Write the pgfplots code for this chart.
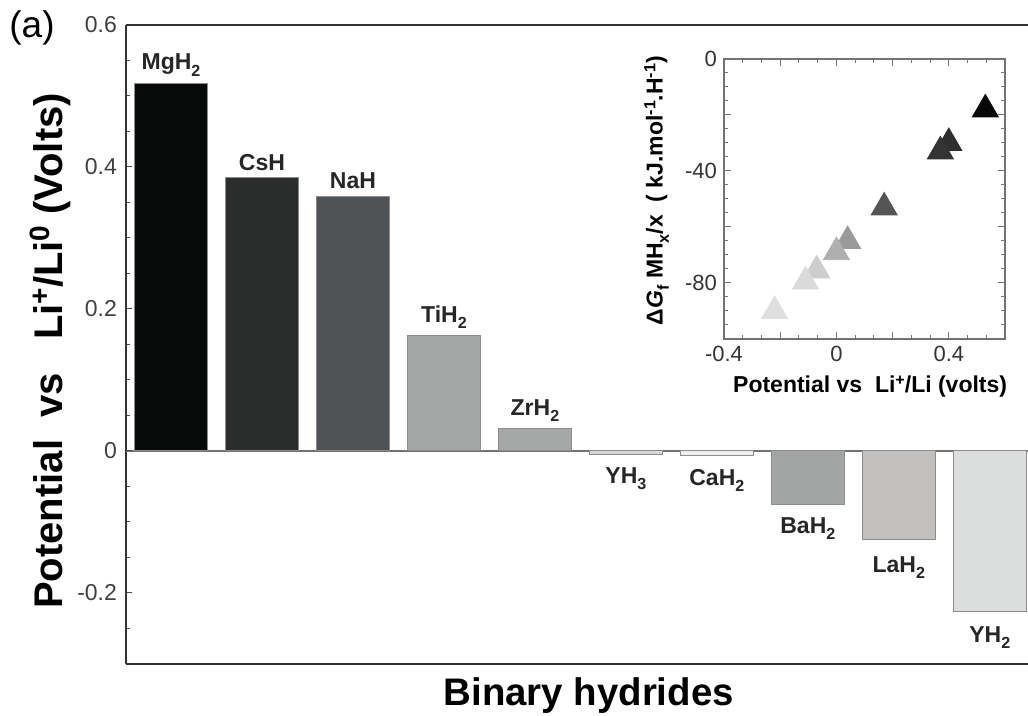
\documentclass[border=0pt]{standalone}
\usepackage{pgfplots}
\pgfplotsset{compat=1.18}
\usepackage{fontspec}
\setmainfont{Liberation Sans}
% lowered / raised small text, sized relative to the current font
\newcommand{\sub}[1]{\raisebox{-0.5ex}{\scalebox{0.7}{#1}}}
\newcommand{\sups}[1]{\raisebox{0.6ex}{\scalebox{0.7}{#1}}}

\definecolor{cMg}{HTML}{080909}
\definecolor{cCs}{HTML}{2B2C2C}
\definecolor{cNa}{HTML}{505356}
\definecolor{cTi}{HTML}{A4A5A5}
\definecolor{cZr}{HTML}{A6A7A7}
\definecolor{cYthree}{HTML}{D6D6D6}
\definecolor{cCa}{HTML}{EEEEEE}
\definecolor{cBa}{HTML}{A3A4A4}
\definecolor{cLa}{HTML}{C1C0BF}
\definecolor{cYtwo}{HTML}{DCDDDD}

\pgfplotstableread{
x y g
0.53 -18 0.03
0.40 -30 0.18
0.37 -33 0.20
0.17 -53 0.33
0.04 -65 0.60
0.00 -69 0.68
-0.07 -75.5 0.80
-0.11 -79.5 0.85
-0.22 -90 0.87
}\insetdata

\begin{document}
\begin{tikzpicture}
\path[use as bounding box] (-63pt,-26pt) rectangle (451pt,332pt);

\begin{axis}[
  width=451pt, height=319.5pt, scale only axis,
  at={(0,0)}, anchor=south west,
  xmin=-0.495, xmax=9.42, ymin=-0.3, ymax=0.6,
  axis x line=box, axis y line=left,
  axis line style={-, line width=1pt, draw=black!80},
  xtick=\empty,
  ytick={-0.2,0,0.2,0.4,0.6},
  yticklabels={-0.2,0,0.2,0.4,0.6},
  minor ytick={-0.25,-0.15,-0.1,-0.05,0.05,0.1,0.15,0.25,0.3,0.35,0.45,0.5,0.55},
  tick align=inside,
  major tick length=3pt, minor tick length=2pt,
  tick style={black!70, line width=0.5pt},
  yticklabel style={font=\fontsize{11.5}{13}\selectfont, text=black!75, xshift=-1pt},
  extra y ticks={0}, extra y tick labels={},
  extra y tick style={grid=major, major grid style={draw=black!55, line width=0.6pt}},
  ylabel={\bfseries Potential\ \ vs\ \ \ Li\sups{+}/Li\sups{0} (Volts)},
  ylabel style={font=\fontsize{20}{23}\selectfont, at={(axis description cs:-0.084,0.49)}, anchor=center},
  xlabel={\bfseries Binary hydrides},
  xlabel style={font=\fontsize{19.2}{22}\selectfont, at={(axis description cs:0.513,-0.05)}, anchor=center},
  ybar, bar width=0.8, bar shift=0pt,
  every node near coord/.append style={font=\bfseries\fontsize{11.5}{13}\selectfont, text=black!85},
  hb/.style={fill=#1, draw=black!45, line width=0.5pt, bar shift=0pt},
  neg/.style={every node near coord/.append style={yshift=-#1}},
]
\addplot[hb=cMg, nodes near coords={MgH\sub{2}}] coordinates {(0,0.518)};
\addplot[hb=cCs, nodes near coords={CsH}] coordinates {(1,0.385)};
\addplot[hb=cNa, nodes near coords={NaH}] coordinates {(2,0.359)};
\addplot[hb=cTi, nodes near coords={TiH\sub{2}}] coordinates {(3,0.162)};
\addplot[hb=cZr, nodes near coords={ZrH\sub{2}}] coordinates {(4,0.031)};
\addplot[hb=cYthree, neg=3pt, nodes near coords={YH\sub{3}}] coordinates {(5,-0.005)};
\addplot[hb=cCa, neg=3pt, nodes near coords={CaH\sub{2}}] coordinates {(6,-0.007)};
\addplot[hb=cBa, neg=3pt, nodes near coords={BaH\sub{2}}] coordinates {(7,-0.075)};
\addplot[hb=cLa, neg=5pt, nodes near coords={LaH\sub{2}}] coordinates {(8,-0.124)};
\addplot[hb=cYtwo, neg=4pt, nodes near coords={YH\sub{2}}] coordinates {(9,-0.226)};
\end{axis}

\begin{axis}[
  width=140.5pt, height=140pt, scale only axis,
  at={(299pt,162.5pt)}, anchor=south west,
  xmin=-0.4, xmax=0.6, ymin=-100, ymax=0,
  axis line style={draw=black!55, line width=0.7pt},
  xtick={-0.4,-0.2,0,0.2,0.4,0.6},
  xticklabels={-0.4,,0,,0.4,},
  minor x tick num=2,
  ytick={-100,-80,-60,-40,-20,0},
  yticklabels={,-80,,-40,,0},
  minor y tick num=3,
  tick align=inside,
  major tick length=3.5pt, minor tick length=2pt,
  tick style={black!55, line width=0.5pt},
  ticklabel style={font=\fontsize{11}{13}\selectfont, text=black!80},
  xlabel={\bfseries Potential vs\ \ Li\sups{+}/Li (volts)},
  xlabel style={font=\fontsize{11.5}{13}\selectfont, at={(axis description cs:0.52,-0.17)}, anchor=center},
  ylabel={\bfseries Δ\textit{G}\sub{f} MH\sub{x}/x\ \ ( kJ.mol\sups{-1}.H\sups{-1})},
  ylabel style={font=\fontsize{11.5}{13}\selectfont, at={(axis description cs:-0.24,0.53)}, anchor=center},
  colormap={bw}{gray(0cm)=(0); gray(1cm)=(1)},
  point meta min=0, point meta max=1,
]
\addplot[scatter, only marks, mark=triangle*, mark size=7.5pt,
  scatter/use mapped color={draw=mapped color, fill=mapped color},
  point meta=explicit] table[x=x, y=y, meta=g] {\insetdata};
\end{axis}

\node[font=\fontsize{18.5}{20}\selectfont] at (-47pt,318pt) {(a)};
\end{tikzpicture}
\end{document}
